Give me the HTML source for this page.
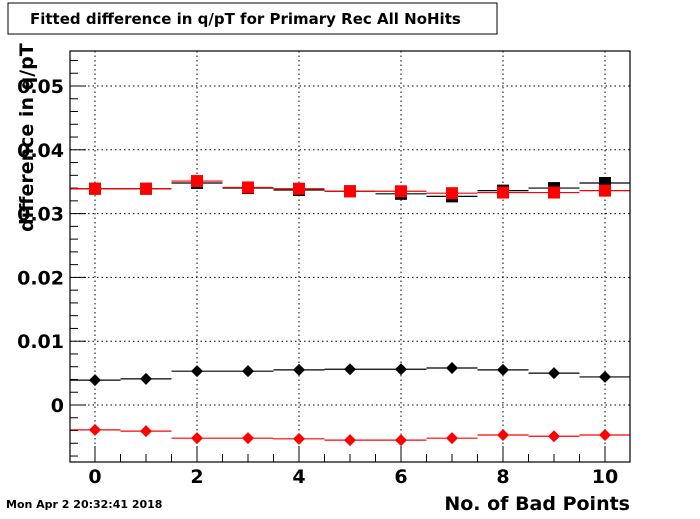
<!DOCTYPE html>
<html><head><meta charset="utf-8"><style>
body{margin:0;background:#fff;width:700px;height:514px;overflow:hidden;font-family:"Liberation Sans",sans-serif}
text{font-family:"DejaVu Sans","Liberation Sans",sans-serif;font-weight:bold}
</style></head><body>
<svg id="c" width="700" height="514">
<rect x="8" y="3" width="489" height="31" fill="#fff" stroke="#000"/>
<text x="30" y="24" font-size="15">Fitted difference in q/pT for Primary Rec All NoHits</text>
<g id="grid"></g><g id="ticks"></g><g id="series"></g>
<rect x="70" y="51" width="560" height="411" fill="none" stroke="#000" stroke-width="1.2"/>
<text transform="translate(33,232) rotate(-90)" font-size="19">difference in q/pT</text>
<text x="630" y="510" font-size="19" text-anchor="end">No. of Bad Points</text>
<text x="6" y="508" font-size="11">Mon Apr  2 20:32:41 2018</text>
</svg>
<script>
const bins=[0,1,2,3,4,5,6,7,8,9,10];
const blackSq=[0.0339,0.0339,0.0348,0.0340,0.0337,0.0335,0.0331,0.0327,0.0336,0.0340,0.0348];
const redSq=[0.0339,0.0339,0.0351,0.0341,0.0339,0.0335,0.0335,0.0332,0.0333,0.0333,0.0336];
const blackDi=[0.0039,0.0041,0.0053,0.0053,0.0055,0.0056,0.0056,0.0058,0.0055,0.0050,0.0044];
const redDi=[-0.0039,-0.0041,-0.0052,-0.0052,-0.0053,-0.0055,-0.0055,-0.0052,-0.0047,-0.0049,-0.0047];
const yTicks=[0,0.01,0.02,0.03,0.04,0.05];
const yLabels=["0","0.01","0.02","0.03","0.04","0.05"];
const xTicks=[0,2,4,6,8,10];
const NS="http://www.w3.org/2000/svg";
const X=v=>95+(v)*51;
const Y=v=>405-v*6380;
function mk(tag,attrs,parent){const e=document.createElementNS(NS,tag);for(const k in attrs)e.setAttribute(k,attrs[k]);document.getElementById(parent).appendChild(e);return e;}
yTicks.forEach((v,i)=>{
 const g=mk('line',{x1:70,x2:630,y1:Y(v),y2:Y(v),stroke:'#000','stroke-dasharray':'1.5,3'},'grid');
 
 
 const t=mk('text',{x:64,y:Y(v)+7,'font-size':19,'text-anchor':'end'},'ticks');
 t.textContent=yLabels[i];
 
 
});
for(let v=-0.008;v<=0.055;v+=0.002){
 const major=Math.abs(v/0.01-Math.round(v/0.01))<0.01;
 const l=mk('line',{x1:70,x2:70+(major?16:8),y1:Y(v),y2:Y(v),stroke:'#000'},'ticks');
 
 
}
xTicks.forEach(v=>{
 const g=mk('line',{x1:X(v),x2:X(v),y1:51,y2:462,stroke:'#000','stroke-dasharray':'1.5,3'},'grid');
 
 
 const t=mk('text',{x:X(v),y:483,'font-size':19,'text-anchor':'middle'},'ticks');
 t.textContent=String(v);
 
 
});
for(let v=0;v<=10.01;v+=0.5){
 const major=Math.abs(v%2)<0.01;
 const l=mk('line',{x1:X(v),x2:X(v),y1:462,y2:462-(major?16:8),stroke:'#000'},'ticks');
 
 
}
function series(vals,color,shape,name){
 vals.forEach((v,i)=>{
  const l=mk('line',{x1:X(bins[i]-0.5),x2:X(bins[i]+0.5),y1:Y(v),y2:Y(v),stroke:color,'stroke-width':1.2},'series');
  
  
  const cx=X(bins[i]),cy=Y(v);
  let m;
  if(shape==='sq') m=mk('rect',{x:cx-6,y:cy-6,width:12,height:12,fill:color},'series');
  else m=mk('polygon',{points:`${cx},${cy-6} ${cx+6},${cy} ${cx},${cy+6} ${cx-6},${cy}`,fill:color},'series');
  
  
 });
}
series(blackSq,'#000','sq','black-square');
series(redSq,'#f00','sq','red-square');
series(blackDi,'#000','di','black-diamond');
series(redDi,'#f00','di','red-diamond');
</script>
</body></html>
